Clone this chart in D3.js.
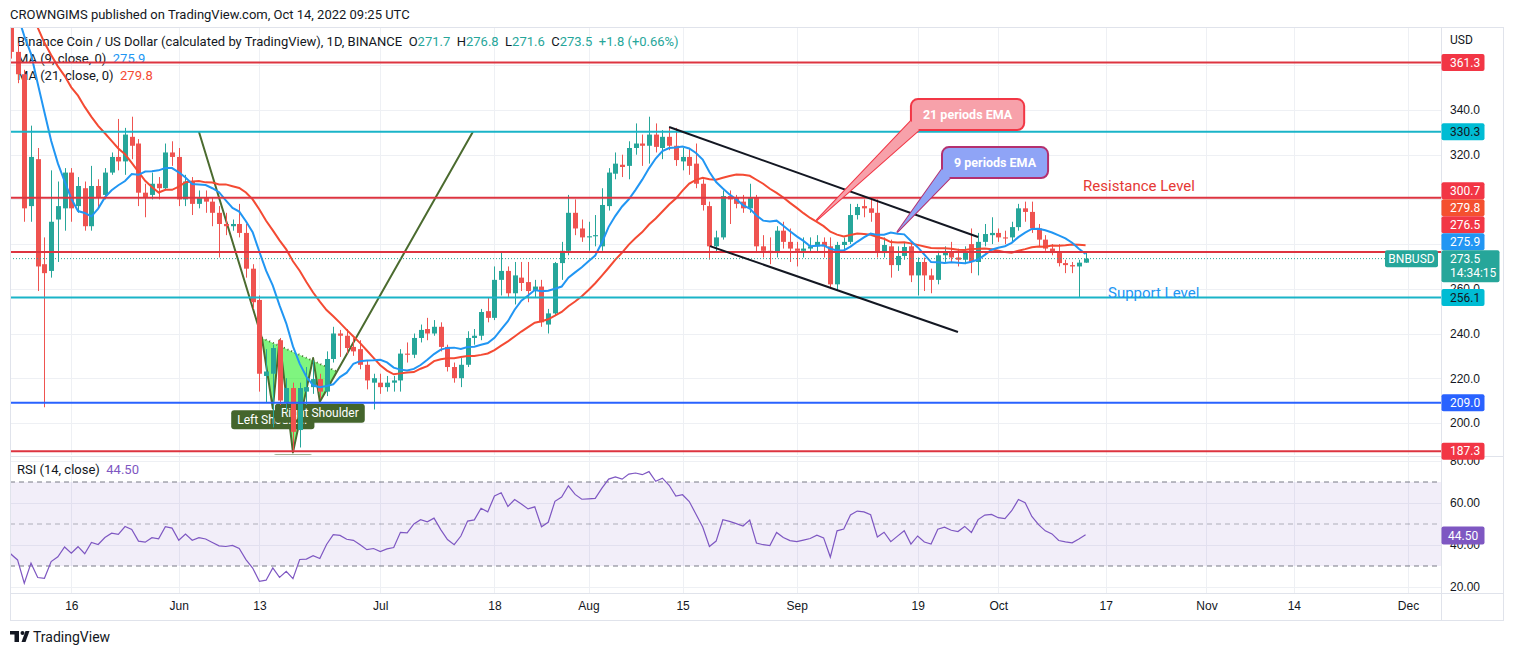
<!DOCTYPE html>
<html>
<head>
<meta charset="utf-8">
<title>BNBUSD 1D</title>
<script src="https://cdn.jsdelivr.net/npm/d3@7"></script>
<style>
  body { margin: 0; background: #fff; }
  svg { display: block; font-family: Roboto, "Noto Sans", Arial, sans-serif; }
  .axis text { fill: #131722; font-size: 12px; }
  .axis path, .axis line { display: none; }
</style>
</head>
<body>
<div id="chart"></div>
<script>
//data

var firstBar = "2022-05-07";
var warmupStart = "2022-04-10";
// closes before the visible window, only there to start the MAs and the RSI
var warmupCloses = [421, 398, 404, 414, 405, 410, 412, 410, 414, 420, 418, 411, 404, 404, 401, 404, 384, 394, 399, 386, 381,
	391, 389, 383, 405, 388, 384];

// daily candles [open, high, low, close]
var mayBars = [
	[384,386,363,366],[366,370,352,356],[356,358,290,296],[297,333,290,319],[318,323,259,270],
	[271,283,207,267],[268,313,265,290],[291,308,272,297],[296,314,286,312],[312,314,290,296],
	[297,310,294,306],[305,308,286,288],[288,315,286,306],[306,309,296,301],[302,314,300,312],
	[312,321,311,319],[319,336,313,317],[317,332,311,329],[328,337,318,324],[325,327,297,303],
	[303,307,292,301],[302,312,300,307],[307,310,300,305],[305,325,304,321],[321,326,315,319]
];
var junBars = [
	[319,323,297,300],[300,311,297,308],[308,310,293,298],[298,304,296,301],[301,304,294,299],
	[299,301,288,294],[294,297,274,289],[289,294,284,288],[288,291,286,289],[289,298,283,285],
	[285,289,265,269],[269,271,251,254],[255,257,214,222],[221,233,209,223],[222,235,198,233.5],
	[237,238,208,210],[209,220,205,215.6],[215.6,218,187.3,196],[196.8,218,189,215.6],[214,225,208,216],
	[216,228,213,219.6],[219.6,222,211,214],[214,232,212,228.6],[228.6,243,227,240],[240,241.6,229.5,239],
	[239,242,231,233.5],[234,238,230,232],[233,237,224,226],[226,228,215,219],[218,222,206,220]
];
var julBars = [
	[218,222,213,216],[216,221,214,218],[218,221,214,219],[219,233,214,231],[231,236,227,230.5],
	[230.5,240,229,238],[238,244,236,241.6],[242,247,237,240],[240,246,239,243],[243,245,232,234],
	[234,235,223,225],[225,227,218,220],[220,229,216,226],[226,241,225,238],[238,242,235,239],
	[239,251,237,249.6],[250,256,245,247],[247,270,246,264],[264,276.5,257,268],[268,270,256,258],
	[258,272,253,266],[265,272,259,262.6],[263,272,254,259],[259,264,256,261],[261,264,243,245],
	[244,251,240,249],[249,272,248,271.5],[271.5,281,264,277],[277,302,275,294],[294,300,284,287],
	[287,291,281,283]
];
var augBars = [
	[283,290,277,283.5],[283.5,293,279,284],[279,305,277,297.5],[297,314,295,312],[311.5,321,309,316],
	[315.5,320,310,314.5],[315,326,309,323],[323,334,320,325],[325,329,315,324],[324,337,316,329],
	[329,334,321,323.5],[323,331,318,328],[328,332,322,324],[324,332,315,317.6],[317,323,313,319],
	[319,323,311,315],[316,325,305,307],[307,309,295,297.5],[297,299,273,279],[279,286,276,283],
	[283,304,282,301.5],[301.5,304,289,300],[301,302,296,298],[299,302,294,296],[296,307,294,301],
	[301,302,276,279],[279,284,274,277],[277,283,271,276],[276,288,274,286],[286,290,278,281],
	[281,287,272,278]
];
var sepBars = [
	[278,281,270,277],[277,283,274,278],[278,283,276,279],[279,284,276,281],[281,283,274,279],
	[279,283,260,262],[262,281,259,279.6],[279.6,283,277,281],[281,298,280,293],[293,298,291,296.6],
	[297,300,292,296],[296,301,290,294],[294,300,274,276],[276,283,274,279.6],[279,282,265,270.6],
	[270.6,279,268,274.7],[274.7,281,273,278.7],[279,281,263,266],[266,274,257,272],[272,274,259,266],
	[266,269,258,264],[264,277,262,275],[275,279,272,276.5],[276.5,281,272,274],[274,278,270,273],
	[273,279,271,276.5],[280,287,267,272],[272,285,266,281],[281,289,279,284.5],[284,292,280,285]
];
var octBars = [
	[285,287,281,283],[283,286,280,282.5],[283,290,281,287.6],[287.6,298,286,296],[296,299,290,294.4],
	[294.4,299,285,287],[287,289,279,282],[282,284,277,278],[278,280,275,276],[276,280,270,271.5],
	[271.5,273,267,270.6],[270.6,272,267,270],[270,273,256,271.7],[271.7,276.8,271.6,273.5]
];

var lastClose = 273.5, ma9Last = 275.9, ma21Last = 279.8, rsiLast = 44.50;

var redLevels = [361.3, 300.7, 276.5, 187.3];
var cyanLevels = [330.3, 256.1];
var blueLevels = [209.0];

var priceTicks = [200, 220, 240, 260, 280, 300, 320, 340, 360];
var rsiTicks = [20, 40, 60, 80];
var rsiBands = [30, 50, 70];
var timeTicks = ["2022-05-16","2022-06-01","2022-06-13","2022-07-01","2022-07-18","2022-08-01","2022-08-15",
	"2022-09-01","2022-09-19","2022-10-01","2022-10-17","2022-11-01","2022-11-14","2022-12-01"];
var timeLabels = ["16","Jun","13","Jul","18","Aug","15","Sep","19","Oct","17","Nov","14","Dec"];

// inverse head & shoulders drawing [time, price]
var hsPoints = [
	["2022-06-04T00:00", 330.3],
	["2022-06-13T09:00", 238.0],
	["2022-06-15T00:00", 206.5],
	["2022-06-16T00:00", 237.0],
	["2022-06-18T00:00", 186.8],
	["2022-06-21T00:00", 229.0],
	["2022-06-22T00:00", 209.5],
	["2022-07-14T19:00", 330.3]
];
var hsNeckRight = ["2022-06-24T15:00", 222.9];
var hsLabels = [["Left Shoulder", 2], ["Head", 4], ["Right Shoulder", 6]];

var channelUpper = [["2022-08-13T00:00", 332.4], ["2022-09-28T00:00", 283.2]];
var channelLower = [["2022-08-19T02:00", 279.1], ["2022-09-25T00:00", 240.7]];

var callouts = [
	{text: "21 periods EMA", box: ["2022-09-18T00:00", 344.9], tip: ["2022-09-04T00:00", 290.8], fill: "#f7a1aa", stroke: "#f23645"},
	{text: "9 periods EMA", box: ["2022-09-22T15:00", 323.4], tip: ["2022-09-16T00:00", 285.5], fill: "#8fa4f6", stroke: "#b3306f"}
];
var notes = [
	{text: "Resistance Level", at: ["2022-10-13T15:00", 303.6], color: "#e53935"},
	{text: "Support Level", at: ["2022-10-17T08:00", 256.1], color: "#2196f3"}
];

//colours
var upColor = "#26a69a", downColor = "#ef5350";
var redLine = "#dd3440", cyanLine = "#1ab4c8", blueLine = "#2962ff";
var ma9Color = "#2196f3", ma21Color = "#f44a33", rsiColor = "#7e57c2";
var olive = "#4b6b2f";

//layout
var width = 1514, height = 655;
var left = 10, right = 1441, axisRight = 1503;
var priceTop = 27, priceBottom = 455, rsiTop = 457, rsiBottom = 593, timeBottom = 620;

var parseDay = d3.timeParse("%Y-%m-%d");
var parseTime = d3.timeParse("%Y-%m-%dT%H:%M");
function toDate(s){ return s.length > 10 ? parseTime(s) : parseDay(s); }

var x = d3.scaleTime().domain([toDate("2022-05-16"), toDate("2022-12-01")]).range([71.3, 1408]);
var y = d3.scaleLinear().domain([200, 340]).range([422.9, 110]);
var yRsi = d3.scaleLinear().domain([20, 80]).range([587, 461]);
function px(p){ return [x(toDate(p[0])), y(p[1])]; }

var bars = mayBars.concat(junBars, julBars, augBars, sepBars, octBars).map(function(b, i){
	return {date: d3.timeDay.offset(toDate(firstBar), i), o: b[0], h: b[1], l: b[2], c: b[3]};
});

// indicators from closes
var closes = warmupCloses.concat(bars.map(function(d){ return d.c; }));
var closeDates = closes.map(function(c, i){ return d3.timeDay.offset(toDate(warmupStart), i); });

function sma(n){
	return closes.map(function(c, i){
		return {date: closeDates[i], v: i < n - 1 ? null : d3.mean(closes.slice(i - n + 1, i + 1))};
	});
}
function rsi(n){
	var up = 0, dn = 0, out = [{date: closeDates[0], v: null}];
	for (var i = 1; i < closes.length; i++){
		var ch = closes[i] - closes[i - 1], g = Math.max(ch, 0), l = Math.max(-ch, 0);
		if (i <= n){ up += g / n; dn += l / n; }
		else { up = (up * (n - 1) + g) / n; dn = (dn * (n - 1) + l) / n; }
		out.push({date: closeDates[i], v: i < n ? null : (dn === 0 ? 100 : 100 - 100 / (1 + up / dn))});
	}
	return out;
}
var ma9 = sma(9), ma21 = sma(21), rsi14 = rsi(14);

// price tags on the axis, stacked upwards when they collide
var tags = redLevels.map(function(v){ return {v: v, bg: '#f23645', fg: '#fff'}; })
	.concat(cyanLevels.map(function(v){ return {v: v, bg: '#00bcd4', fg: '#131722'}; }))
	.concat(blueLevels.map(function(v){ return {v: v, bg: blueLine, fg: '#fff'}; }))
	.concat([{v: ma21Last, bg: '#f4502f', fg: '#fff'}, {v: ma9Last, bg: ma9Color, fg: '#fff'},
		{v: lastClose, bg: upColor, fg: '#fff', sub: '14:34:15'}]);
tags.sort(function(a, b){ return b.v - a.v; });
tags.forEach(function(t){ t.cy = y(t.v); t.h = t.sub ? 32 : 17; t.w = t.sub ? 58 : 43; });
for (var i = tags.length - 2; i >= 0; i--){
	var limit = tags[i + 1].cy - 8.5;
	if (tags[i].cy - 8.5 + tags[i].h > limit) tags[i].cy = limit - tags[i].h + 8.5;
}
// an axis label mostly hidden under the tags is dropped, as on the chart
function covered(cy, boxes){
	var a = cy - 6, b = cy + 6, hidden = 0;
	boxes.forEach(function(r){ hidden += Math.max(0, Math.min(b, r[1]) - Math.max(a, r[0])); });
	return hidden / 12 > 0.75;
}
var tagBoxes = tags.map(function(t){ return [t.cy - 8.5, t.cy - 8.5 + t.h]; });
var rsiTagBox = [[yRsi(rsiLast) - 9, yRsi(rsiLast) + 9]];

//drawing area

var svg = d3.select('#chart')
	.append('svg')
	.attr('width', width)
	.attr('height', height);

svg.append('text')
	.attr('x', 10).attr('y', 19)
	.attr('font-size', 13).attr('fill', '#131722')
	.text('CROWNGIMS published on TradingView.com, Oct 14, 2022 09:25 UTC');

var defs = svg.append('defs');
defs.append('clipPath').attr('id', 'clipPrice').append('rect')
	.attr('x', left).attr('y', priceTop).attr('width', right - left).attr('height', priceBottom - priceTop);
defs.append('clipPath').attr('id', 'clipRsi').append('rect')
	.attr('x', left).attr('y', rsiTop).attr('width', right - left).attr('height', rsiBottom - rsiTop);

// grid
var grid = svg.append('g').attr('stroke', '#eef0f4').attr('stroke-width', 1);
timeTicks.forEach(function(t){
	var gx = Math.round(x(toDate(t))) + 0.5;
	grid.append('line').attr('x1', gx).attr('x2', gx).attr('y1', priceTop).attr('y2', priceBottom);
	grid.append('line').attr('x1', gx).attr('x2', gx).attr('y1', rsiTop).attr('y2', rsiBottom);
});
priceTicks.forEach(function(p){
	var gy = Math.round(y(p)) + 0.5;
	if (gy > priceTop && gy < priceBottom)
		grid.append('line').attr('x1', left).attr('x2', right).attr('y1', gy).attr('y2', gy);
});
rsiTicks.forEach(function(r){
	var gy = Math.round(yRsi(r)) + 0.5;
	grid.append('line').attr('x1', left).attr('x2', right).attr('y1', gy).attr('y2', gy);
});

//price pane
var pane = svg.append('g').attr('clip-path', 'url(#clipPrice)');

// legend
var legend = pane.append('g').attr('font-size', 13).attr('fill', '#131722');
var l1 = legend.append('text').attr('x', 17).attr('y', 46).attr('xml:space', 'preserve');
l1.append('tspan').text('Binance Coin / US Dollar (calculated by TradingView), 1D, BINANCE  O');
l1.append('tspan').attr('fill', upColor).text('271.7');
l1.append('tspan').text('  H');
l1.append('tspan').attr('fill', upColor).text('276.8');
l1.append('tspan').text('  L');
l1.append('tspan').attr('fill', upColor).text('271.6');
l1.append('tspan').text('  C');
l1.append('tspan').attr('fill', upColor).text(lastClose.toFixed(1) + '  +1.8 (+0.66%)');
var l2 = legend.append('text').attr('x', 17).attr('y', 63).attr('xml:space', 'preserve');
l2.append('tspan').text('MA (9, close, 0)  ');
l2.append('tspan').attr('fill', ma9Color).text(ma9Last.toFixed(1));
var l3 = legend.append('text').attr('x', 17).attr('y', 80).attr('xml:space', 'preserve');
l3.append('tspan').text('MA (21, close, 0)  ');
l3.append('tspan').attr('fill', ma21Color).text(ma21Last.toFixed(1));

// head & shoulders (behind the candles)
var hs = pane.append('g');
var hsFill = hsPoints.slice(1, 7).concat([hsNeckRight]).map(px);
hs.append('path').attr('d', 'M' + hsFill.join('L') + 'Z')
	.attr('fill', 'rgba(0, 235, 0, 0.5)');
hs.append('path').attr('d', 'M' + [px(hsPoints[1]), px(hsNeckRight)].join('L'))
	.attr('stroke', olive).attr('stroke-width', 2).attr('stroke-dasharray', '1,3').attr('fill', 'none');
hs.append('path').attr('d', d3.line()(hsPoints.map(px)))
	.attr('stroke', olive).attr('stroke-width', 2).attr('fill', 'none').attr('stroke-linejoin', 'round');
hsLabels.forEach(function(lb){
	var p = px(hsPoints[lb[1]]);
	var g = hs.append('g');
	var t = g.append('text').attr('font-size', 12).attr('fill', '#fff').attr('text-anchor', 'middle')
		.attr('x', p[0]).attr('y', p[1] + 2 + 9.5).attr('dy', '0.35em').text(lb[0]);
	var w = t.node().getComputedTextLength() + 12;
	g.insert('rect', 'text').attr('x', p[0] - w / 2).attr('y', p[1] + 2).attr('width', w).attr('height', 19)
		.attr('rx', 3).attr('fill', '#44652c');
});

// candles
var candles = pane.selectAll('g.candle').data(bars);
var ce = candles.enter().append('g').classed('candle', true)
	.attr('fill', function(d){ return d.c >= d.o ? upColor : downColor; })
	.attr('stroke', function(d){ return d.c >= d.o ? upColor : downColor; });
ce.append('line')
	.attr('x1', function(d){ return Math.round(x(d.date)) + 0.5; })
	.attr('x2', function(d){ return Math.round(x(d.date)) + 0.5; })
	.attr('y1', function(d){ return y(d.h); })
	.attr('y2', function(d){ return y(d.l); })
	.attr('stroke-width', 1);
ce.append('rect')
	.attr('stroke', 'none')
	.attr('x', function(d){ return Math.round(x(d.date)) - 2; })
	.attr('width', 5)
	.attr('y', function(d){ return y(Math.max(d.o, d.c)); })
	.attr('height', function(d){ return Math.max(1, Math.abs(y(d.o) - y(d.c))); });

// moving averages
var visibleFrom = toDate("2022-05-05");
function seriesLine(ys){
	return d3.line().defined(function(d){ return d.v != null && d.date >= visibleFrom; })
		.x(function(d){ return x(d.date); }).y(function(d){ return ys(d.v); });
}
pane.append('path').attr('d', seriesLine(y)(ma21)).attr('fill', 'none').attr('stroke', ma21Color).attr('stroke-width', 2);
pane.append('path').attr('d', seriesLine(y)(ma9)).attr('fill', 'none').attr('stroke', ma9Color).attr('stroke-width', 2);

// horizontal levels
function level(v, color){
	pane.append('line').attr('x1', left).attr('x2', right).attr('y1', y(v)).attr('y2', y(v))
		.attr('stroke', color).attr('stroke-width', 2);
}
redLevels.forEach(function(v){ level(v, redLine); });
cyanLevels.forEach(function(v){ level(v, cyanLine); });
blueLevels.forEach(function(v){ level(v, blueLine); });

pane.append('line').attr('x1', left).attr('x2', 1385).attr('y1', y(lastClose)).attr('y2', y(lastClose))
	.attr('stroke', upColor).attr('stroke-width', 1).attr('stroke-dasharray', '1,2');

// channel
[channelUpper, channelLower].forEach(function(c){
	pane.append('path').attr('d', d3.line()(c.map(px))).attr('stroke', '#131722').attr('stroke-width', 2);
});

// callouts
callouts.forEach(function(c){
	var b = px(c.box), tip = px(c.tip), h = 31;
	var g = pane.append('g');
	var t = g.append('text').attr('font-size', 12.5).attr('font-weight', 'bold').attr('fill', '#fff')
		.attr('text-anchor', 'middle').text(c.text);
	var w = t.node().getComputedTextLength() + 24;
	var ptr = 'M' + [tip, [b[0], b[1] + h - 9], [b[0] + 8, b[1] + h]].join('L') + 'Z';
	g.insert('path', 'text').attr('d', ptr).attr('fill', c.fill).attr('stroke', c.stroke).attr('stroke-width', 2)
		.attr('stroke-linejoin', 'round');
	g.insert('rect', 'text').attr('x', b[0]).attr('y', b[1]).attr('width', w).attr('height', h).attr('rx', 7)
		.attr('fill', c.fill).attr('stroke', c.stroke).attr('stroke-width', 2);
	g.insert('path', 'text').attr('d', ptr).attr('fill', c.fill);
	t.attr('x', b[0] + w / 2).attr('y', b[1] + h / 2).attr('dy', '0.35em');
});

notes.forEach(function(n){
	var p = px(n.at);
	pane.append('text').attr('x', p[0]).attr('y', p[1]).attr('font-size', 15).attr('fill', n.color).text(n.text);
});

//rsi pane
var rp = svg.append('g').attr('clip-path', 'url(#clipRsi)');
rp.append('rect').attr('x', left).attr('width', right - left)
	.attr('y', yRsi(d3.max(rsiBands))).attr('height', yRsi(d3.min(rsiBands)) - yRsi(d3.max(rsiBands)))
	.attr('fill', 'rgba(126, 87, 194, 0.1)');
rsiBands.forEach(function(r){
	rp.append('line').attr('x1', left).attr('x2', right).attr('y1', yRsi(r)).attr('y2', yRsi(r))
		.attr('stroke', '#787b86').attr('stroke-width', 1).attr('stroke-dasharray', '5,4')
		.attr('opacity', r === 50 ? 0.55 : 1);
});
rp.append('path').attr('d', seriesLine(yRsi)(rsi14)).attr('fill', 'none').attr('stroke', rsiColor).attr('stroke-width', 1.2);
var rl = rp.append('text').attr('x', 17).attr('y', 474).attr('font-size', 13).attr('fill', '#131722').attr('xml:space', 'preserve');
rl.append('tspan').text('RSI (14, close)  ');
rl.append('tspan').attr('fill', rsiColor).text(rsiLast.toFixed(2));

//frame
var frame = svg.append('g').attr('stroke', '#e0e3eb').attr('stroke-width', 1).attr('fill', 'none');
frame.append('rect').attr('x', left + 0.5).attr('y', priceTop + 0.5).attr('width', axisRight - left).attr('height', timeBottom - priceTop);
frame.append('line').attr('x1', right + 0.5).attr('x2', right + 0.5).attr('y1', priceTop).attr('y2', timeBottom);
frame.append('line').attr('x1', left).attr('x2', axisRight).attr('y1', priceBottom + 1.5).attr('y2', priceBottom + 1.5);
frame.append('line').attr('x1', left).attr('x2', axisRight).attr('y1', rsiBottom + 0.5).attr('y2', rsiBottom + 0.5);

//axes
svg.append('g').attr('class', 'axis').attr('transform', 'translate(' + right + ',0)')
	.call(d3.axisRight(y)
		.tickValues(priceTicks.filter(function(p){ return y(p) > priceTop + 8 && !covered(y(p), tagBoxes); }))
		.tickFormat(d3.format('.1f')).tickSize(0).tickPadding(9));
svg.append('g').attr('class', 'axis').attr('transform', 'translate(' + right + ',0)')
	.call(d3.axisRight(yRsi).tickValues(rsiTicks.filter(function(r){ return !covered(yRsi(r), rsiTagBox); }))
		.tickFormat(d3.format('.2f')).tickSize(0).tickPadding(9));
svg.append('g').attr('class', 'axis').attr('transform', 'translate(0,' + rsiBottom + ')')
	.call(d3.axisBottom(x).tickValues(timeTicks.map(toDate))
		.tickFormat(function(d, i){ return timeLabels[i]; }).tickSize(0).tickPadding(8));
svg.append('text').attr('x', right + 9).attr('y', 44).attr('font-size', 12).attr('fill', '#131722').text('USD');

var tagG = svg.append('g').attr('font-size', 12);
tags.forEach(function(t){
	tagG.append('rect').attr('x', right + 0.5).attr('y', t.cy - 8.5).attr('width', t.w).attr('height', t.h)
		.attr('rx', 2).attr('fill', t.bg);
	tagG.append('text').attr('x', right + 9).attr('y', t.cy).attr('dy', '0.35em').attr('fill', t.fg).text(t.v.toFixed(1));
	if (t.sub) tagG.append('text').attr('x', right + 9).attr('y', t.cy + 14).attr('dy', '0.35em').attr('fill', t.fg).text(t.sub);
});
tagG.append('rect').attr('x', 1385).attr('y', y(lastClose) - 8.5).attr('width', 53).attr('height', 17)
	.attr('rx', 2).attr('fill', upColor);
tagG.append('text').attr('x', 1411.5).attr('y', y(lastClose)).attr('dy', '0.35em').attr('text-anchor', 'middle')
	.attr('fill', '#fff').text('BNBUSD');
tagG.append('rect').attr('x', right + 0.5).attr('y', yRsi(rsiLast) - 9).attr('width', 43).attr('height', 18)
	.attr('rx', 2).attr('fill', rsiColor);
tagG.append('text').attr('x', right + 7).attr('y', yRsi(rsiLast)).attr('dy', '0.35em').attr('fill', '#fff').text(rsiLast.toFixed(2));

// footer logo
var logo = svg.append('g').attr('fill', '#131722');
logo.append('rect').attr('x', 10).attr('y', 631).attr('width', 9).attr('height', 3.5);
logo.append('rect').attr('x', 14.5).attr('y', 631).attr('width', 4.5).attr('height', 11);
logo.append('circle').attr('cx', 22.5).attr('cy', 633).attr('r', 2);
logo.append('path').attr('d', 'M25.5 631 L29.5 631 L25.5 642 L21.5 642 Z');
svg.append('text').attr('x', 33).attr('y', 642).attr('font-size', 14).attr('fill', '#131722').text('TradingView');
</script>
</body>
</html>
